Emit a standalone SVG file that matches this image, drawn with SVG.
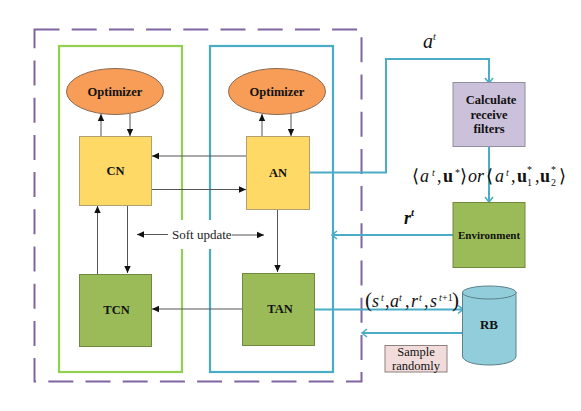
<svg xmlns="http://www.w3.org/2000/svg" width="581" height="411" viewBox="0 0 581 411">
<defs>
<marker id="ah" markerUnits="userSpaceOnUse" markerWidth="8" markerHeight="8" refX="7" refY="4" orient="auto"><path d="M0,0.8 L7,4 L0,7.2 Z" fill="#111"/></marker>
<marker id="ab" markerUnits="userSpaceOnUse" markerWidth="9" markerHeight="10" refX="7" refY="5" orient="auto"><path d="M2,1 L7,5 L2,9" fill="none" stroke="#4bacc6" stroke-width="1.6"/></marker>
</defs>
<style>
text{font-family:"Liberation Serif","Times New Roman",serif;fill:#111}
.b{font-weight:bold;font-size:12.500px;text-anchor:middle}
.m{font-size:18px;font-style:italic}
.r{font-style:normal}
.s{font-size:10px}
.c{fill:none;stroke:#555;stroke-width:1;marker-end:url(#ah)}
.t{fill:none;stroke:#4bacc6;stroke-width:2;marker-end:url(#ab)}
.y{fill:#ffd966;stroke:#b0a070}
.g{fill:#9bbb59;stroke:#71893f}
.o{fill:#f79d57;stroke:#8a6a50}
</style>
<g id="frames" fill="none">
<rect id="outer" x="34.500" y="29.500" width="327" height="352" stroke="#8064a2" stroke-width="2" stroke-dasharray="25,12.200"/>
<rect id="critic-frame" x="59" y="46" width="123" height="326" stroke="#92d050" stroke-width="2.200"/>
<rect id="actor-frame" x="210" y="46" width="123" height="326" stroke="#4bacc6" stroke-width="2.200"/>
</g>
<g id="connectors">
<path class="c" d="M101,136V114"/>
<path class="c" d="M130,114V136"/>
<path class="c" d="M262,136V114"/>
<path class="c" d="M291,114V136"/>
<path class="c" d="M247,156H152"/>
<path class="c" d="M151,189.500H246"/>
<path class="c" d="M97.500,274V206"/>
<path class="c" d="M127.500,205V273"/>
<path class="c" d="M277.500,209V272"/>
<path class="c" d="M242,309H152"/>
<rect x="170" y="220" width="60" height="29" fill="#fff"/>
<path class="c" d="M168,234.500H137"/>
<path class="c" d="M232,235H264"/>
<path class="t" d="M308,172.500H386V59H489V83"/>
<path class="t" d="M489,147V202"/>
<path class="t" d="M453,235H332"/>
<path class="t" d="M314,309.500H463"/>
<path class="t" d="M462,333H362"/>
</g>
<g id="opt1"><ellipse class="o" cx="115" cy="91.500" rx="48.500" ry="23"/><text class="b" x="115" y="96">Optimizer</text></g>
<g id="opt2"><ellipse class="o" cx="277" cy="91.500" rx="48.500" ry="23"/><text class="b" x="277" y="96">Optimizer</text></g>
<g id="cn"><rect class="y" x="79.500" y="136.500" width="72" height="69"/><text class="b" x="115.500" y="175">CN</text></g>
<g id="an"><rect class="y" x="246.500" y="136.500" width="63" height="73"/><text class="b" x="278" y="177">AN</text></g>
<g id="tcn"><rect class="g" x="79.500" y="274.500" width="72" height="72"/><text class="b" x="116.500" y="314">TCN</text></g>
<g id="tan"><rect class="g" x="242.500" y="273.500" width="72" height="72"/><text class="b" x="280" y="313">TAN</text></g>
<g id="filters"><rect x="453" y="82.500" width="72" height="64" fill="#ccc1da" stroke="#8f8f9f"/><text class="b" x="491" y="104">Calculate</text><text class="b" x="489" y="119">receive</text><text class="b" x="489" y="133">filters</text></g>
<g id="env"><rect class="g" x="453" y="202.500" width="72" height="65" stroke="#8a9a70"/><text x="489" y="239" class="b" style="font-size:11px">Environment</text></g>
<g id="rb"><path d="M462.500,292V356C462.500,368 516,368 516,356V292Z" fill="#92cddc" stroke="#5a8088"/><ellipse cx="489.250" cy="292.500" rx="26.750" ry="6.500" fill="#92cddc" stroke="#5a8088"/><text class="b" x="489" y="329" style="font-size:13px">RB</text></g>
<g id="sample"><rect x="385" y="345.500" width="62" height="26.500" fill="#f2dcdb" stroke="#8f8080"/><text x="416" y="355.500" font-size="12.500" text-anchor="middle">Sample</text><text x="416" y="370" font-size="12.500" text-anchor="middle">randomly</text></g>
<g id="labels">
<text x="172" y="239" font-size="13" style="fill:#222">Soft update</text>
<text x="423" y="48" class="m" style="font-size:20px">a<tspan dy="-8" class="s">t</tspan></text>
<text y="182" class="m"><tspan x="412" class="r">⟨</tspan><tspan x="420">a</tspan><tspan x="432" dy="-6" class="s">t</tspan><tspan x="437" dy="6" class="r">,</tspan><tspan x="443" class="r" font-weight="bold">u</tspan><tspan x="455" dy="-6" class="r s">*</tspan><tspan x="460" dy="6" class="r">⟩</tspan><tspan x="468">or</tspan><tspan x="486" class="r">⟨</tspan><tspan x="495">a</tspan><tspan x="506" dy="-6" class="s">t</tspan><tspan x="511" dy="6" class="r">,</tspan><tspan x="517" class="r" font-weight="bold">u</tspan><tspan x="527" dy="4" class="r s">1</tspan><tspan x="527" dy="-13" class="r s">*</tspan><tspan x="535" dy="9" class="r">,</tspan><tspan x="540" class="r" font-weight="bold">u</tspan><tspan x="551" dy="4" class="r s">2</tspan><tspan x="551" dy="-13" class="r s">*</tspan><tspan x="559" dy="9" class="r">⟩</tspan></text>
<text x="404" y="224" class="m" style="font-weight:bold">r<tspan dy="-8" class="s" style="font-size:11px">t</tspan></text>
<text y="307" class="m"><tspan x="365" class="r" style="font-size:21px">(</tspan><tspan x="372">s</tspan><tspan x="381" dy="-6" class="s">t</tspan><tspan x="385" dy="6" class="r">,</tspan><tspan x="390">a</tspan><tspan x="399" dy="-6" class="s">t</tspan><tspan x="405" dy="6" class="r">,</tspan><tspan x="411">r</tspan><tspan x="419" dy="-6" class="s">t</tspan><tspan x="424" dy="6" class="r">,</tspan><tspan x="430">s</tspan><tspan x="439" dy="-6" class="s">t</tspan><tspan x="442" class="r s">+1</tspan><tspan x="452" dy="6" class="r" style="font-size:21px">)</tspan></text>
</g>
</svg>
